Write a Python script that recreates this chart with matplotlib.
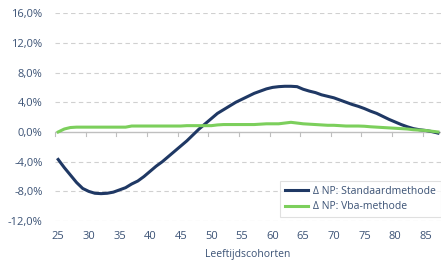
import matplotlib
matplotlib.use("Agg")
import matplotlib.pyplot as plt
import numpy as np

ages = list(range(25, 88))
standaard = [-3.7, -4.8, -5.8, -6.8, -7.6, -8.0, -8.25, -8.3, -8.25, -8.1,
             -7.8, -7.5, -7.0, -6.6, -6.0, -5.3, -4.6, -4.0, -3.3, -2.6,
             -1.9, -1.2, -0.4, 0.4, 1.1, 1.8, 2.5, 3.0, 3.5, 4.0,
             4.4, 4.8, 5.2, 5.5, 5.8, 6.0, 6.1, 6.15, 6.15, 6.1,
             5.75, 5.5, 5.3, 5.0, 4.8, 4.6, 4.3, 4.0, 3.7, 3.45,
             3.15, 2.8, 2.5, 2.1, 1.7, 1.35, 1.0, 0.7, 0.45, 0.3,
             0.2, 0.05, -0.15]
vba = [0.0, 0.4, 0.6, 0.65, 0.65, 0.65, 0.65, 0.65, 0.65, 0.65,
       0.65, 0.65, 0.8, 0.8, 0.8, 0.8, 0.8, 0.8, 0.8, 0.8,
       0.8, 0.85, 0.85, 0.85, 0.85, 0.85, 0.95, 1.0, 1.0, 1.0,
       1.0, 1.0, 1.0, 1.05, 1.1, 1.1, 1.1, 1.2, 1.3, 1.2,
       1.1, 1.05, 1.0, 0.95, 0.9, 0.9, 0.85, 0.8, 0.8, 0.8,
       0.77, 0.7, 0.65, 0.6, 0.55, 0.5, 0.45, 0.4, 0.3, 0.25,
       0.2, 0.1, 0.0]
yticks = [-12, -8, -4, 0, 4, 8, 12, 16]
xticklabels = list(range(25, 90, 5))

navy = "#1F3864"
green = "#7CCF5C"
txt = "#3B5275"

plt.rcParams['font.family'] = ['Open Sans', 'DejaVu Sans']
fig = plt.figure(figsize=(4.41, 2.62), dpi=100)
ax = fig.add_axes([0.125, 0.156, 0.875, 0.794])

ax.plot(ages, standaard, color=navy, lw=2.2, label="Δ NP: Standaardmethode", zorder=3)
ax.plot(ages, vba, color=green, lw=2.2, label="Δ NP: Vba-methode", zorder=3)

ax.set_xlim(24.5, 87.5)
ax.set_ylim(-12, 16)
ax.set_yticks(yticks)
ax.set_yticklabels([f"{v:.1f}%".replace(".", ",") for v in yticks], color=txt, fontsize=8)
for y in yticks:
    if y != 0:
        ax.axhline(y, color="#D0D0D0", lw=0.8, ls=(0, (4, 3)), zorder=1)
ax.axhline(0, color="#BFBFBF", lw=1.0, zorder=2)
for s in ax.spines.values():
    s.set_visible(False)
ax.tick_params(axis='y', length=0, pad=9)
ax.set_xticks(xticklabels)
ax.set_xticklabels([str(v) for v in xticklabels], color=txt, fontsize=8)
ax.tick_params(axis='x', length=0, pad=7)
# category boundary tick marks on the zero line
for t in np.arange(24.5, 88, 5):
    ax.plot([t, t], [0, -0.6], color="#BFBFBF", lw=0.8, zorder=2, clip_on=False)

ax.set_xlabel("Leeftijdscohorten", color=txt, fontsize=7.5, labelpad=5)

leg = ax.legend(loc="lower right", bbox_to_anchor=(1.005, 0.01), fontsize=7.5,
                frameon=True, fancybox=False, edgecolor="#D9D9D9",
                handlelength=2.2, handletextpad=0.5, labelcolor=txt,
                borderpad=0.45, labelspacing=0.45, borderaxespad=0.2)
leg.get_frame().set_linewidth(0.8)

fig.savefig("out.png", dpi=100)
